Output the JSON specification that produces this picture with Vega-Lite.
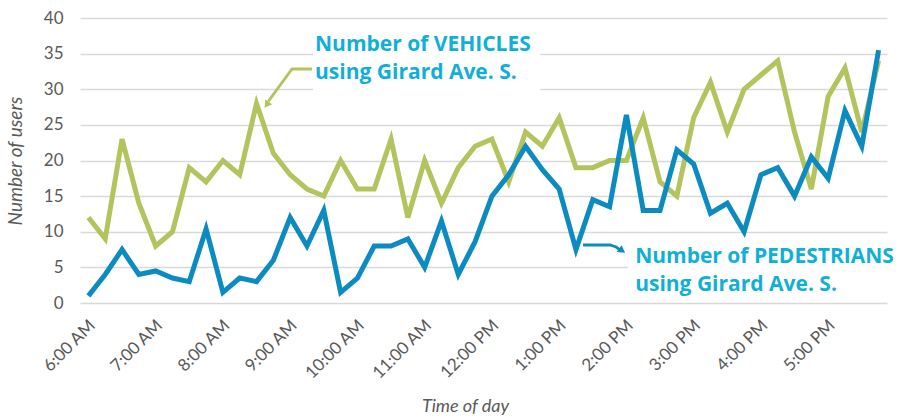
{
  "$schema": "https://vega.github.io/schema/vega-lite/v6.json",
  "autosize": {"type": "none"},
  "width": 807,
  "height": 285,
  "padding": {"left": 80, "top": 18, "right": 11, "bottom": 113},
  "background": "white",
  "config": {"view": {"stroke": null}, "font": "Lato"},
  "datasets": {
    "counts": [
      {"time": "2024-01-01T06:00", "veh": 12, "ped": 1},
      {"time": "2024-01-01T06:15", "veh": 9, "ped": 4},
      {"time": "2024-01-01T06:30", "veh": 23, "ped": 7.5},
      {"time": "2024-01-01T06:45", "veh": 14, "ped": 4},
      {"time": "2024-01-01T07:00", "veh": 8, "ped": 4.5},
      {"time": "2024-01-01T07:15", "veh": 10, "ped": 3.5},
      {"time": "2024-01-01T07:30", "veh": 19, "ped": 3},
      {"time": "2024-01-01T07:45", "veh": 17, "ped": 10.4},
      {"time": "2024-01-01T08:00", "veh": 20, "ped": 1.5},
      {"time": "2024-01-01T08:15", "veh": 18, "ped": 3.5},
      {"time": "2024-01-01T08:30", "veh": 28, "ped": 3},
      {"time": "2024-01-01T08:45", "veh": 21, "ped": 6},
      {"time": "2024-01-01T09:00", "veh": 18, "ped": 12},
      {"time": "2024-01-01T09:15", "veh": 16, "ped": 8},
      {"time": "2024-01-01T09:30", "veh": 15, "ped": 13},
      {"time": "2024-01-01T09:45", "veh": 20, "ped": 1.5},
      {"time": "2024-01-01T10:00", "veh": 16, "ped": 3.5},
      {"time": "2024-01-01T10:15", "veh": 16, "ped": 8},
      {"time": "2024-01-01T10:30", "veh": 23, "ped": 8},
      {"time": "2024-01-01T10:45", "veh": 12, "ped": 9},
      {"time": "2024-01-01T11:00", "veh": 20, "ped": 5},
      {"time": "2024-01-01T11:15", "veh": 14, "ped": 11.5},
      {"time": "2024-01-01T11:30", "veh": 19, "ped": 4},
      {"time": "2024-01-01T11:45", "veh": 22, "ped": 8.6},
      {"time": "2024-01-01T12:00", "veh": 23, "ped": 15},
      {"time": "2024-01-01T12:15", "veh": 17, "ped": 18},
      {"time": "2024-01-01T12:30", "veh": 24, "ped": 22},
      {"time": "2024-01-01T12:45", "veh": 22, "ped": 18.7},
      {"time": "2024-01-01T13:00", "veh": 26, "ped": 16},
      {"time": "2024-01-01T13:15", "veh": 19, "ped": 7.5},
      {"time": "2024-01-01T13:30", "veh": 19, "ped": 14.5},
      {"time": "2024-01-01T13:45", "veh": 20, "ped": 13.5},
      {"time": "2024-01-01T14:00", "veh": 20, "ped": 26.4},
      {"time": "2024-01-01T14:15", "veh": 26, "ped": 13},
      {"time": "2024-01-01T14:30", "veh": 17, "ped": 13},
      {"time": "2024-01-01T14:45", "veh": 15, "ped": 21.5},
      {"time": "2024-01-01T15:00", "veh": 26, "ped": 19.5},
      {"time": "2024-01-01T15:15", "veh": 31, "ped": 12.6},
      {"time": "2024-01-01T15:30", "veh": 24, "ped": 14},
      {"time": "2024-01-01T15:45", "veh": 30, "ped": 10},
      {"time": "2024-01-01T16:00", "veh": 32, "ped": 18},
      {"time": "2024-01-01T16:15", "veh": 34, "ped": 19},
      {"time": "2024-01-01T16:30", "veh": 24, "ped": 15},
      {"time": "2024-01-01T16:45", "veh": 16, "ped": 20.5},
      {"time": "2024-01-01T17:00", "veh": 29, "ped": 17.5},
      {"time": "2024-01-01T17:15", "veh": 33, "ped": 27},
      {"time": "2024-01-01T17:30", "veh": 24, "ped": 22},
      {"time": "2024-01-01T17:45", "veh": 34, "ped": 35.5}
    ]
  },
  "encoding": {
    "x": {"field": "time", "type": "temporal", "title": "Time of day",
      "scale": {"domain": [{"year": 2024, "month": 1, "date": 1, "hours": 5, "minutes": 52, "seconds": 30}, {"year": 2024, "month": 1, "date": 1, "hours": 17, "minutes": 52, "seconds": 30}], "nice": false},
      "axis": {
        "values": [
          {"year": 2024, "month": 1, "date": 1, "hours": 6},
          {"year": 2024, "month": 1, "date": 1, "hours": 7},
          {"year": 2024, "month": 1, "date": 1, "hours": 8},
          {"year": 2024, "month": 1, "date": 1, "hours": 9},
          {"year": 2024, "month": 1, "date": 1, "hours": 10},
          {"year": 2024, "month": 1, "date": 1, "hours": 11},
          {"year": 2024, "month": 1, "date": 1, "hours": 12},
          {"year": 2024, "month": 1, "date": 1, "hours": 13},
          {"year": 2024, "month": 1, "date": 1, "hours": 14},
          {"year": 2024, "month": 1, "date": 1, "hours": 15},
          {"year": 2024, "month": 1, "date": 1, "hours": 16},
          {"year": 2024, "month": 1, "date": 1, "hours": 17}
        ],
        "format": "%-I:%M %p",
        "labelAngle": -45,
        "labelAlign": "right",
        "labelBaseline": "top",
        "labelPadding": 14,
        "labelOffset": -2,
        "labelFontSize": 17,
        "labelColor": "#595959",
        "labelOverlap": false,
        "labelFlush": false,
        "grid": false,
        "ticks": false,
        "domain": false,
        "titleFontSize": 18,
        "titleFontStyle": "italic",
        "titleFontWeight": "normal",
        "titleColor": "#595959",
        "titleX": 385,
        "titleY": 108,
        "titleBaseline": "alphabetic",
        "titleAnchor": "middle"
      }
    },
    "y": {"field": "value", "type": "quantitative", "title": "Number of users",
      "scale": {"domain": [0, 40], "nice": false},
      "axis": {
        "values": [0, 5, 10, 15, 20, 25, 30, 35, 40],
        "labelFontSize": 17,
        "labelColor": "#595959",
        "labelPadding": 17,
        "labelOverlap": false,
        "ticks": false,
        "domain": false,
        "grid": true,
        "gridColor": "#d9d9d9",
        "gridWidth": 1.3,
        "titleFontSize": 19,
        "titleFontStyle": "italic",
        "titleFontWeight": "normal",
        "titleColor": "#595959",
        "titleX": -65,
        "titleY": 142.5,
        "titleBaseline": "middle",
        "titleAngle": -90
      }
    }
  },
  "layer": [
    {
      "data": {"values": [
        {"time": "2024-01-01T09:20:24", "time2": "2024-01-01T12:42:54", "value": 38.6, "value2": 29.5},
        {"time": "2024-01-01T14:01:30", "time2": "2024-01-01T17:52:30", "value": 8.84, "value2": 0.98}
      ]},
      "mark": {"type": "rect", "fill": "white"},
      "encoding": {
        "x2": {"field": "time2"},
        "y2": {"field": "value2"}
      }
    },
    {
      "data": {"name": "counts"},
      "transform": [{"fold": ["veh"], "as": ["series", "value"]}],
      "mark": {"type": "line", "color": "#b3c35d", "strokeWidth": 5}
    },
    {
      "data": {"name": "counts"},
      "transform": [{"fold": ["ped"], "as": ["series", "value"]}],
      "mark": {"type": "line", "color": "#0b8bbf", "strokeWidth": 5}
    },
    {
      "data": {"values": [
        {"time": "2024-01-01T09:19:30", "value": 32.84, "k": 0},
        {"time": "2024-01-01T09:01:40", "value": 32.84, "k": 1},
        {"time": "2024-01-01T08:40:30", "value": 28.3, "k": 2}
      ]},
      "mark": {"type": "line", "color": "#b3c35d", "strokeWidth": 2.8},
      "encoding": {"order": {"field": "k"}}
    },
    {
      "data": {"values": [{"time": "2024-01-01T08:39:36", "value": 27.96}]},
      "mark": {"type": "point", "shape": "triangle", "filled": true, "color": "#b3c35d", "opacity": 1, "size": 70, "angle": 215}
    },
    {
      "data": {"values": [
        {"time": "2024-01-01T13:21:20", "value": 8.14, "k": 0},
        {"time": "2024-01-01T13:45:25", "value": 8.14, "k": 1},
        {"time": "2024-01-01T13:50:48", "value": 7.86, "k": 2},
        {"time": "2024-01-01T13:54:00", "value": 7.5, "k": 3}
      ]},
      "mark": {"type": "line", "color": "#0b8bbf", "strokeWidth": 2.8},
      "encoding": {"order": {"field": "k"}}
    },
    {
      "data": {"values": [{"time": "2024-01-01T13:55:18", "value": 7.44}]},
      "mark": {"type": "point", "shape": "triangle", "filled": true, "color": "#0b8bbf", "opacity": 1, "size": 70, "angle": 125}
    },
    {
      "data": {"values": [
        {"time": "2024-01-01T09:22:12", "value": 35.37, "label": "Number of VEHICLES\nusing Girard Ave. S."},
        {"time": "2024-01-01T14:07:48", "value": 5.61, "label": "Number of PEDESTRIANS\nusing Girard Ave. S."}
      ]},
      "mark": {"type": "text", "font": "Open Sans", "fontWeight": "bold", "fontSize": 21, "color": "#10b0d6", "align": "left", "baseline": "alphabetic", "lineBreak": "\n", "lineHeight": 28},
      "encoding": {"text": {"field": "label"}}
    }
  ]
}
